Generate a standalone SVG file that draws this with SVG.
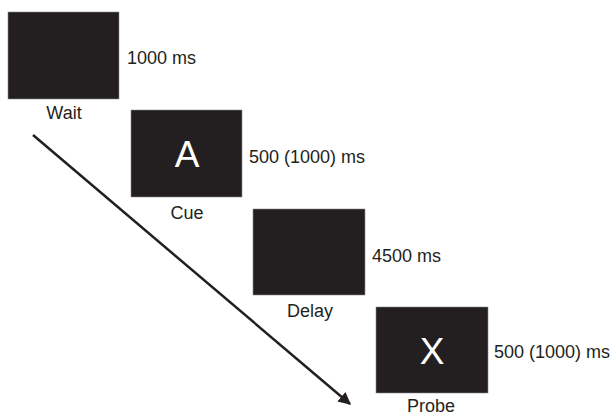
<svg xmlns="http://www.w3.org/2000/svg" width="616" height="417" viewBox="0 0 616 417">
<defs>
<style>
.box{fill:#231f20;stroke:#8a8a8a;stroke-width:0.6}
.lbl{font-family:"Liberation Sans",Arial,sans-serif;font-size:18px;fill:#231f20}
.mid{text-anchor:middle}
.big{font-family:"Liberation Sans",Arial,sans-serif;font-size:37px;fill:#ffffff;text-anchor:middle}
</style>
<marker id="ah" viewBox="0 0 10 10" refX="9" refY="5" markerWidth="5" markerHeight="5" orient="auto" markerUnits="strokeWidth">
<path d="M0,0 L10,5 L0,10 z" fill="#231f20"/>
</marker>
</defs>
<rect width="616" height="417" fill="#ffffff"/>
<g id="connectors">
<line x1="33" y1="135" x2="350" y2="404" stroke="#231f20" stroke-width="2.5" marker-end="url(#ah)"/>
</g>
<g id="wait">
<rect class="box" x="8" y="12" width="111" height="87"/>
<text class="lbl" x="127" y="64">1000 ms</text>
<text class="lbl mid" x="64" y="119">Wait</text>
</g>
<g id="cue">
<rect class="box" x="131" y="110" width="111" height="87"/>
<text class="big" x="187" y="167">A</text>
<text class="lbl" x="249" y="163">500 (1000) ms</text>
<text class="lbl mid" x="187" y="219">Cue</text>
</g>
<g id="delay">
<rect class="box" x="253" y="209" width="112" height="86"/>
<text class="lbl" x="372" y="262">4500 ms</text>
<text class="lbl mid" x="310" y="317">Delay</text>
</g>
<g id="probe">
<rect class="box" x="376" y="307" width="112" height="86"/>
<text class="big" x="432" y="364">X</text>
<text class="lbl" x="494" y="358">500 (1000) ms</text>
<text class="lbl mid" x="431" y="412">Probe</text>
</g>
</svg>
